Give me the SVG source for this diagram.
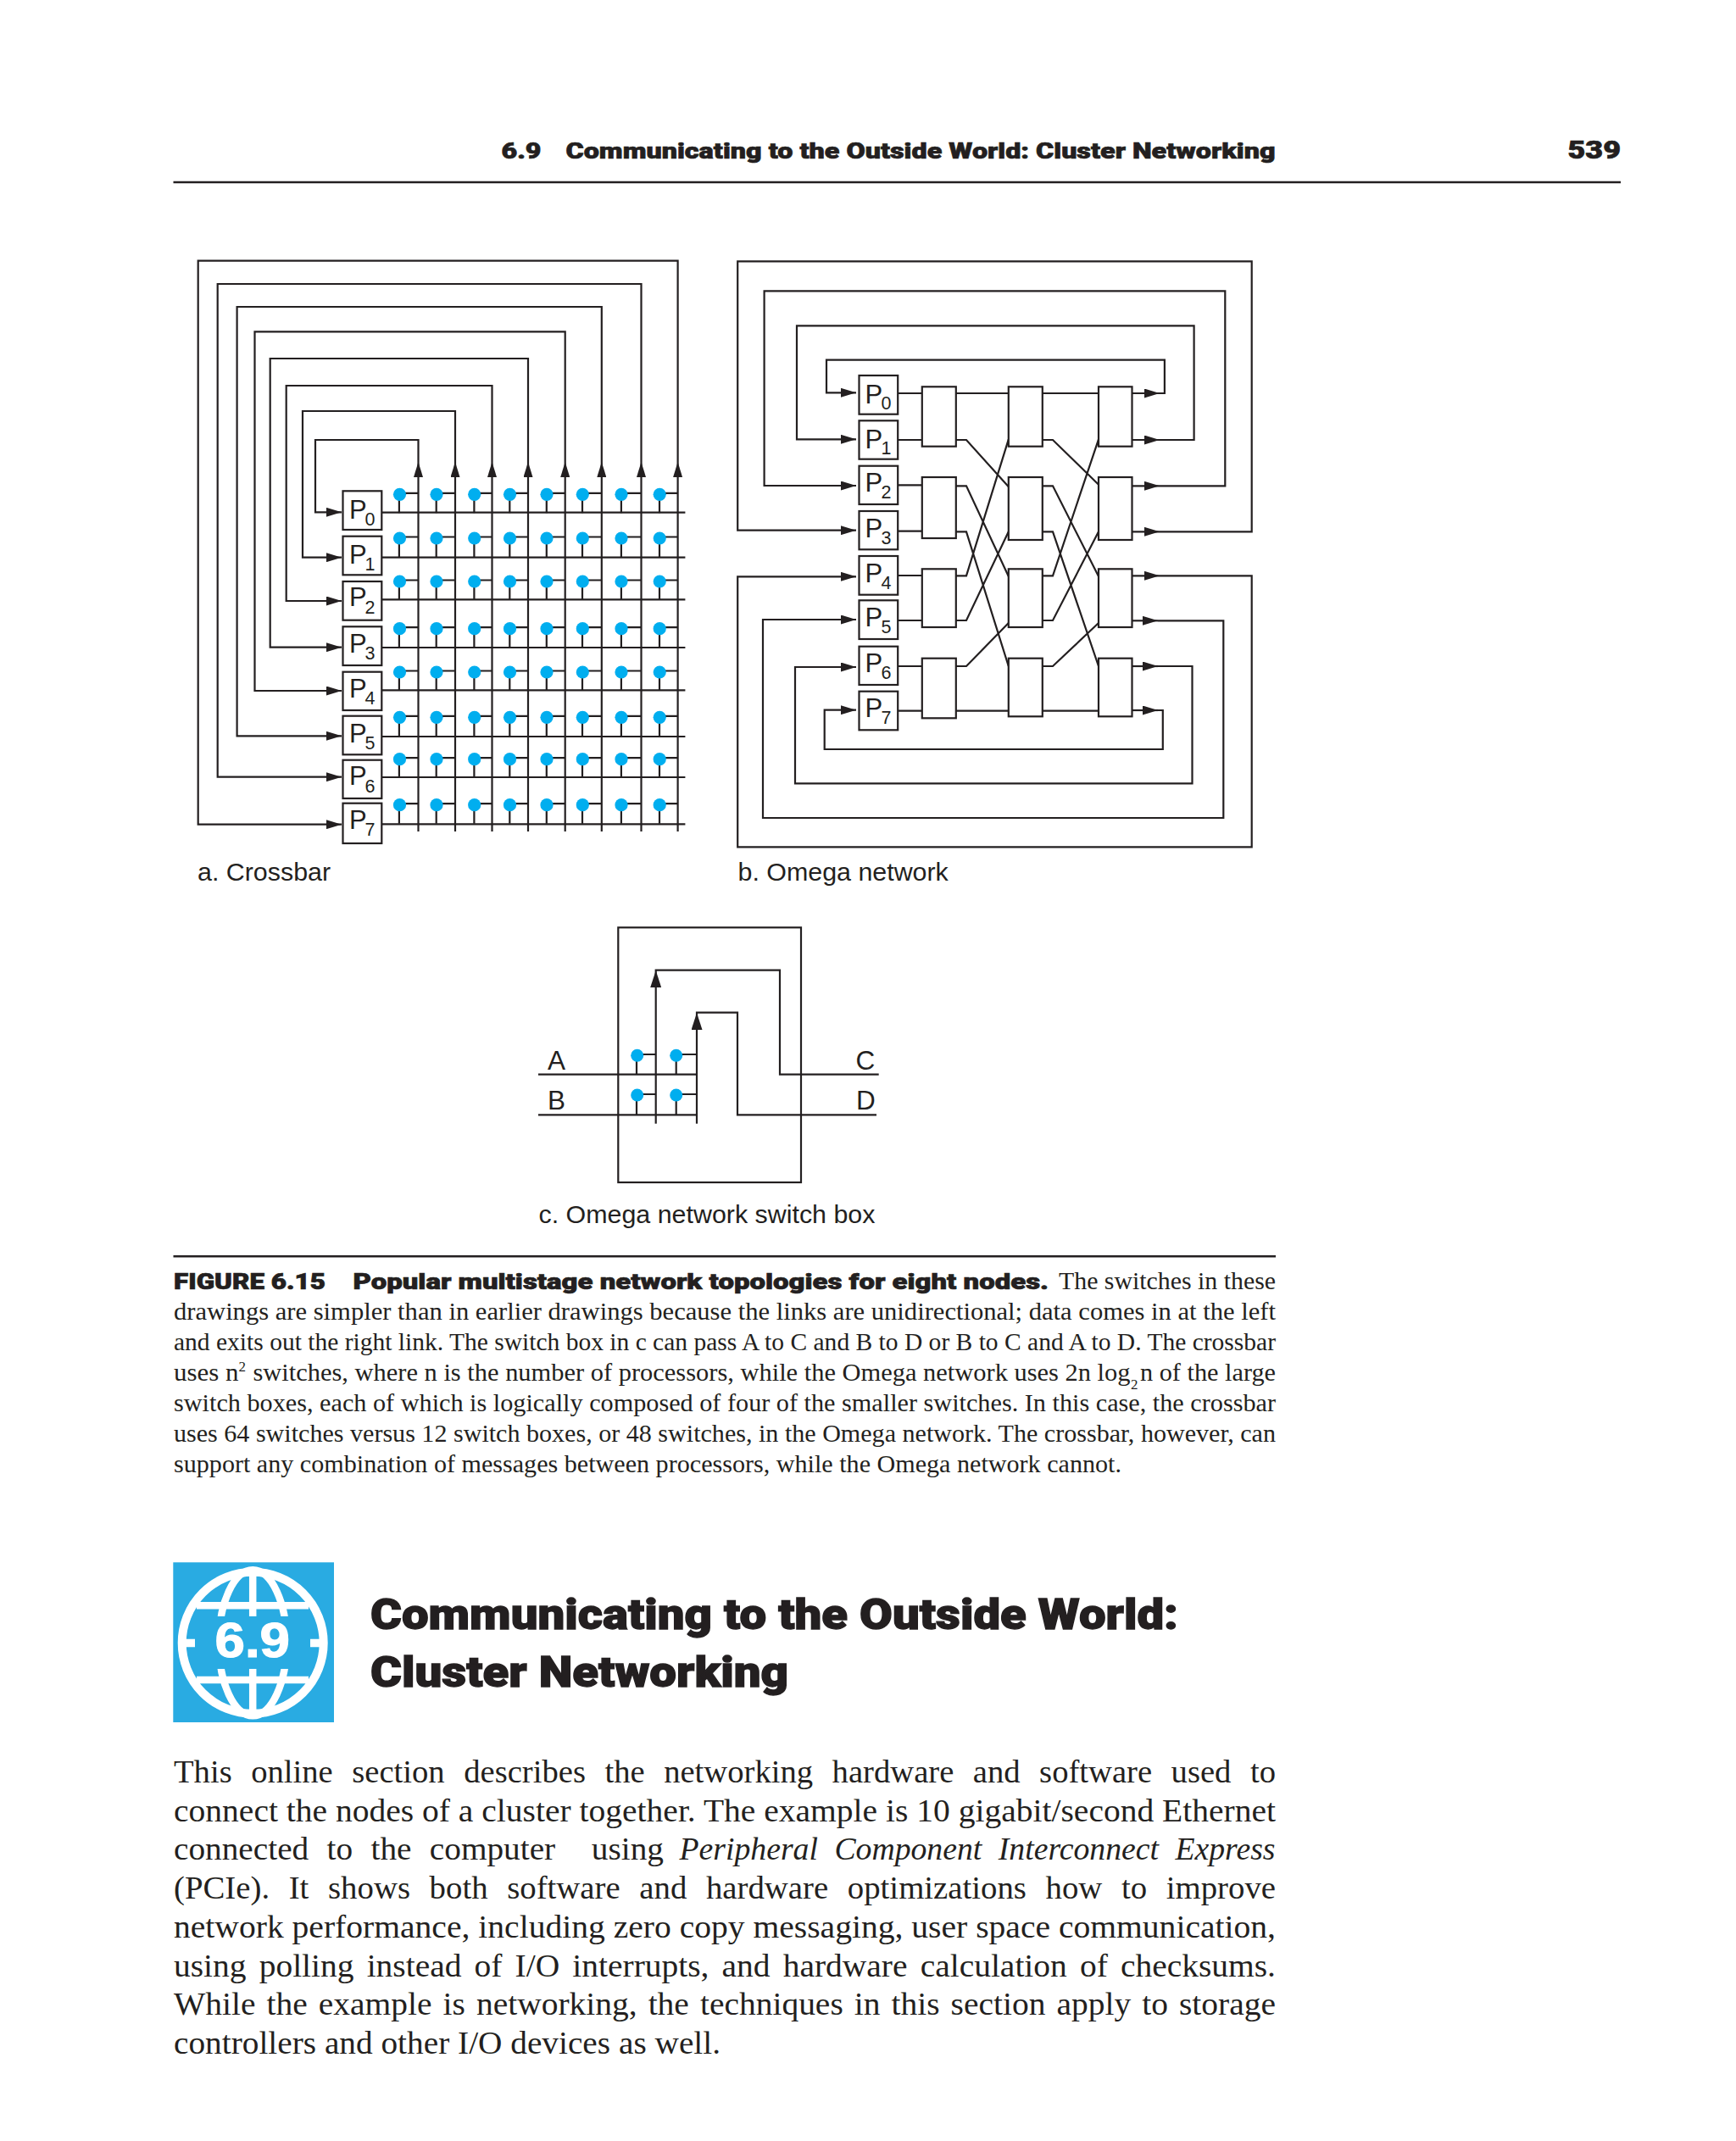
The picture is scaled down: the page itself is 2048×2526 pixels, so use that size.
<svg xmlns="http://www.w3.org/2000/svg" xmlns:xlink="http://www.w3.org/1999/xlink" width="2048" height="2526" viewBox="0 0 2048 2526">
<style>
text{fill:#231f20}
.w{fill:none;stroke:#231f20;stroke-width:2.2;stroke-linejoin:miter}
.a{marker-end:url(#arr)}
.a2{marker-end:url(#arr2)}
.box{fill:#fff;stroke:#231f20;stroke-width:2.2}
.dot{fill:#00aeef}
.rule{stroke:#231f20;stroke-width:2.4;fill:none}
.s{font-family:"Liberation Sans",Arial,sans-serif}
.p{font-size:31px}.b{font-size:21.5px}.lab{font-size:30.4px}.pin{font-size:31.5px}
.h{font-family:Roboto,"Liberation Sans",sans-serif;font-weight:900;stroke:#231f20;stroke-width:.7px}
.hl{stroke-width:1.3px}
.c{font-family:"Liberation Serif","Times New Roman",serif;font-size:29px}
.t{font-family:"Liberation Serif","Times New Roman",serif;font-size:37.5px}
</style>
<defs>
<marker id="arr" markerUnits="userSpaceOnUse" viewBox="0 0 18 11" markerWidth="18" markerHeight="11" refX="18" refY="5.5" orient="auto"><path d="M0 0L18 5.5L0 11Z" fill="#231f20"/></marker>
<marker id="arr2" markerUnits="userSpaceOnUse" viewBox="0 0 20 13" markerWidth="20" markerHeight="13" refX="20" refY="6.5" orient="auto"><path d="M0 0L20 6.5L0 13Z" fill="#231f20"/></marker>
<g id="xrow">
<path class="w" d="M470.9 0V22M514.7 0V22M559.4 0V22M601.3 0V22M644.8 0V22M687 0V22M732.9 0V22M778 0V22M470.9 -1.5H493.5M514.7 -1.5H537M559.4 -1.5H580.5M601.3 -1.5H623M644.8 -1.5H666.7M687 -1.5H709.8M732.9 -1.5H756.5M778 -1.5H799.6"/>
<circle class="dot" cx="471.5" cy="0" r="7.6"/><circle class="dot" cx="515" cy="0" r="7.6"/><circle class="dot" cx="559.7" cy="0" r="7.6"/><circle class="dot" cx="601.5" cy="0" r="7.6"/><circle class="dot" cx="645" cy="0" r="7.6"/><circle class="dot" cx="687.3" cy="0" r="7.6"/><circle class="dot" cx="733" cy="0" r="7.6"/><circle class="dot" cx="778.2" cy="0" r="7.6"/>
</g>
<clipPath id="polar"><rect x="204" y="1848" width="190" height="59"/><rect x="204" y="1969" width="190" height="60"/></clipPath>
</defs>
<rect width="2048" height="2526" fill="#fff"/>

<g id="page-header">
<text class="h" x="591.5" y="186.5" font-size="26" textLength="47" lengthAdjust="spacingAndGlyphs">6.9</text>
<text class="h" x="667.5" y="186.5" font-size="26" textLength="837" lengthAdjust="spacingAndGlyphs">Communicating to the Outside World: Cluster Networking</text>
<text class="h" x="1849.5" y="186.5" font-size="30" textLength="62.5" lengthAdjust="spacingAndGlyphs">539</text>
<path class="rule" d="M204.5 215H1912"/>
</g>

<g id="crossbar-connectors">
<path class="w" d="M450.3 604.7H808.4M450.3 657.7H808.4M450.3 707.3H808.4M450.3 764H808.4M450.3 814.3H808.4M450.3 869H808.4M450.3 917H808.4M450.3 972.3H808.4"/>
<path class="w a" d="M493.5 981V545"/><path class="w a" d="M537 981V545"/><path class="w a" d="M580.5 981V545"/><path class="w a" d="M623 981V545"/><path class="w a" d="M666.7 981V545"/><path class="w a" d="M709.8 981V545"/><path class="w a" d="M756.5 981V545"/><path class="w a" d="M799.6 981V545"/>
<path class="w a" d="M493.5 545V519H372V604.3H403"/>
<path class="w a" d="M537 545V485H357V657.7H403"/>
<path class="w a" d="M580.5 545V455H337.7V709H403"/>
<path class="w a" d="M623 545V423H318.7V763.7H403"/>
<path class="w a" d="M666.7 545V391.3H300.5V815H403"/>
<path class="w a" d="M709.8 545V362H279.6V868.3H403"/>
<path class="w a" d="M756.5 545V335H256.7V916.7H403"/>
<path class="w a" d="M799.6 545V307.7H233.7V972.7H403"/>
<use href="#xrow" xlink:href="#xrow" y="583.3"/><use href="#xrow" xlink:href="#xrow" y="635"/><use href="#xrow" xlink:href="#xrow" y="686"/><use href="#xrow" xlink:href="#xrow" y="741.7"/><use href="#xrow" xlink:href="#xrow" y="793"/><use href="#xrow" xlink:href="#xrow" y="846.3"/><use href="#xrow" xlink:href="#xrow" y="895.7"/><use href="#xrow" xlink:href="#xrow" y="949.7"/>
</g>
<g id="xb-P0"><rect class="box" x="404.5" y="579.3" width="45.8" height="45.7"/><text class="s p" x="412" y="611.5">P</text><text class="s b" x="430.5" y="619.5">0</text></g>
<g id="xb-P1"><rect class="box" x="404.5" y="632.7" width="45.8" height="45.6"/><text class="s p" x="412" y="665">P</text><text class="s b" x="430.5" y="673">1</text></g>
<g id="xb-P2"><rect class="box" x="404.5" y="686" width="45.8" height="45.7"/><text class="s p" x="412" y="715">P</text><text class="s b" x="430.5" y="724">2</text></g>
<g id="xb-P3"><rect class="box" x="404.5" y="739.3" width="45.8" height="45.7"/><text class="s p" x="412" y="770">P</text><text class="s b" x="430.5" y="778">3</text></g>
<g id="xb-P4"><rect class="box" x="404.5" y="792.7" width="45.8" height="45.3"/><text class="s p" x="412" y="823">P</text><text class="s b" x="430.5" y="831">4</text></g>
<g id="xb-P5"><rect class="box" x="404.5" y="844.7" width="45.8" height="45.6"/><text class="s p" x="412" y="875.5">P</text><text class="s b" x="430.5" y="883.5">5</text></g>
<g id="xb-P6"><rect class="box" x="404.5" y="896.7" width="45.8" height="45.3"/><text class="s p" x="412" y="926">P</text><text class="s b" x="430.5" y="935">6</text></g>
<g id="xb-P7"><rect class="box" x="404.5" y="947.7" width="45.8" height="47.3"/><text class="s p" x="412" y="978">P</text><text class="s b" x="430.5" y="985.5">7</text></g>
<text id="label-a" class="s lab" x="233" y="1039.3">a. Crossbar</text>

<g id="omega-connectors">
<path class="w" d="M1059.2 464H1296M1059.2 519H1088M1059.2 572.3H1088M1059.2 626.7H1088M1059.2 679H1088M1059.2 732H1088M1059.2 786H1088M1059.2 838.7H1296"/>
<path class="w" d="M1127.8 519H1140L1189.8 574.3M1127.8 573.3H1140L1189.8 680M1127.8 627.3H1140L1189.8 786M1127.8 679.3H1140L1189.8 518.3M1127.8 732H1140L1189.8 627.3M1127.8 786H1140L1189.8 735"/>
<path class="w" d="M1229.8 519H1242L1296 571.7M1229.8 573.3H1242L1296 680M1229.8 627.3H1242L1296 786M1229.8 679.3H1242L1296 518.3M1229.8 732H1242L1296 627.3M1229.8 786H1242L1296 735"/>
<path class="w a" d="M1335.5 464H1368"/><path class="w a" d="M1335.5 519H1368"/><path class="w a" d="M1335.5 573.3H1368"/><path class="w a" d="M1335.5 627.3H1368"/><path class="w a" d="M1335.5 679.3H1368"/><path class="w a" d="M1335.5 732.3H1366"/><path class="w a" d="M1335.5 786H1366"/><path class="w a" d="M1335.5 838H1366"/>
<path class="w a" d="M1368 464H1373.9V424.7H975V463.3H1010"/>
<path class="w a" d="M1368 519H1408.6V384.3H940V518.3H1010"/>
<path class="w a" d="M1368 573.3H1445.3V343.3H901.6V573H1010"/>
<path class="w a" d="M1368 627.3H1476.7V308.3H870.2V625.7H1010"/>
<path class="w a" d="M1368 679.3H1476.7V999.3H870.2V680.3H1010"/>
<path class="w a" d="M1366 732.3H1443.3V965H900V731H1010"/>
<path class="w a" d="M1366 786H1406.5V924.3H938V787H1010"/>
<path class="w a" d="M1366 838H1371.8V884H972.7V837.7H1010"/>
</g>
<g id="om-P0"><rect class="box" x="1013.5" y="443" width="45.7" height="45.7"/><text class="s p" x="1020.5" y="475.5">P</text><text class="s b" x="1039.5" y="483">0</text></g>
<g id="om-P1"><rect class="box" x="1013.5" y="496.3" width="45.7" height="45.4"/><text class="s p" x="1020.5" y="528.5">P</text><text class="s b" x="1039.5" y="536">1</text></g>
<g id="om-P2"><rect class="box" x="1013.5" y="549.7" width="45.7" height="45.3"/><text class="s p" x="1020.5" y="580">P</text><text class="s b" x="1039.5" y="587.5">2</text></g>
<g id="om-P3"><rect class="box" x="1013.5" y="603" width="45.7" height="45.3"/><text class="s p" x="1020.5" y="634">P</text><text class="s b" x="1039.5" y="641.5">3</text></g>
<g id="om-P4"><rect class="box" x="1013.5" y="656" width="45.7" height="45.7"/><text class="s p" x="1020.5" y="686.5">P</text><text class="s b" x="1039.5" y="694.5">4</text></g>
<g id="om-P5"><rect class="box" x="1013.5" y="708.3" width="45.7" height="45.7"/><text class="s p" x="1020.5" y="738.5">P</text><text class="s b" x="1039.5" y="746.5">5</text></g>
<g id="om-P6"><rect class="box" x="1013.5" y="762.7" width="45.7" height="45.3"/><text class="s p" x="1020.5" y="793">P</text><text class="s b" x="1039.5" y="800.5">6</text></g>
<g id="om-P7"><rect class="box" x="1013.5" y="815.7" width="45.7" height="45.6"/><text class="s p" x="1020.5" y="845.5">P</text><text class="s b" x="1039.5" y="853.5">7</text></g>
<g id="sw-1-1"><rect class="box" x="1087.8" y="456.3" width="40" height="70.4"/></g>
<g id="sw-1-2"><rect class="box" x="1087.8" y="563" width="40" height="72"/></g>
<g id="sw-1-3"><rect class="box" x="1087.8" y="671.3" width="40" height="68.7"/></g>
<g id="sw-1-4"><rect class="box" x="1087.8" y="776.7" width="40" height="70.6"/></g>
<g id="sw-2-1"><rect class="box" x="1189.8" y="456.3" width="40" height="70.4"/></g>
<g id="sw-2-2"><rect class="box" x="1189.8" y="563" width="40" height="74"/></g>
<g id="sw-2-3"><rect class="box" x="1189.8" y="671.3" width="40" height="68.7"/></g>
<g id="sw-2-4"><rect class="box" x="1189.8" y="776.7" width="40" height="68.6"/></g>
<g id="sw-3-1"><rect class="box" x="1296" y="456.3" width="39.5" height="70.4"/></g>
<g id="sw-3-2"><rect class="box" x="1296" y="563" width="39.5" height="74"/></g>
<g id="sw-3-3"><rect class="box" x="1296" y="671.3" width="39.5" height="68.7"/></g>
<g id="sw-3-4"><rect class="box" x="1296" y="776.7" width="39.5" height="68.6"/></g>
<text id="label-b" class="s lab" x="870.5" y="1039.3">b. Omega network</text>

<g id="switch-box"><rect x="729.3" y="1094.3" width="215.7" height="300.7" fill="none" stroke="#231f20" stroke-width="2.2"/></g>
<g id="switch-connectors">
<path class="w" d="M635 1267.7H822M635 1315.3H822"/>
<path class="w a2" d="M773.7 1325.7V1145"/><path class="w a2" d="M822 1325.7V1195"/>
<path class="w" d="M773.7 1145V1144.7H920V1267.7H1036.7"/>
<path class="w" d="M822 1195V1194.7H870V1315.3H1034"/>
<path class="w" d="M751 1245V1267.7M797.7 1245V1267.7M751 1292V1315.3M797.7 1292V1315.3M751 1244H773.7M797.7 1244H822M751 1291H773.7M797.7 1291H822"/>
<circle class="dot" cx="751.7" cy="1245.3" r="7.5"/><circle class="dot" cx="797.7" cy="1245.3" r="7.5"/><circle class="dot" cx="751.7" cy="1292" r="7.5"/><circle class="dot" cx="797.7" cy="1292" r="7.5"/>
</g>
<text class="s pin" x="646" y="1261.5">A</text><text class="s pin" x="646" y="1308.5">B</text><text class="s pin" x="1009.5" y="1261.5">C</text><text class="s pin" x="1010" y="1308.5">D</text>
<text id="label-c" class="s lab" x="635.5" y="1442.7">c. Omega network switch box</text>

<g id="caption">
<path class="rule" d="M204.5 1482.3H1505"/>
<text class="h" x="205" y="1520.7" font-size="26" textLength="179" lengthAdjust="spacingAndGlyphs">FIGURE 6.15</text>
<text class="h" x="416.5" y="1520.7" font-size="26" textLength="820.5" lengthAdjust="spacingAndGlyphs">Popular multistage network topologies for eight nodes.</text>
<text class="c" x="1249" y="1520.7" textLength="256" lengthAdjust="spacingAndGlyphs">The switches in these</text>
<text class="c" x="205" y="1557.3" textLength="1300" lengthAdjust="spacingAndGlyphs">drawings are simpler than in earlier drawings because the links are unidirectional; data comes in at the left</text>
<text class="c" x="205" y="1593.3" textLength="1300" lengthAdjust="spacingAndGlyphs">and exits out the right link. The switch box in c can pass A to C and B to D or B to C and A to D. The crossbar</text>
<text class="c" x="205" y="1629.3" textLength="76.5" lengthAdjust="spacingAndGlyphs">uses n</text>
<text class="c" x="281.5" y="1618" style="font-size:17px">2</text>
<text class="c" x="298.5" y="1629.3" textLength="1035" lengthAdjust="spacingAndGlyphs">switches, where n is the number of processors, while the Omega network uses 2n log</text>
<text class="c" x="1334" y="1639" style="font-size:17px">2</text>
<text class="c" x="1345" y="1629.3" textLength="160" lengthAdjust="spacingAndGlyphs">n of the large</text>
<text class="c" x="205" y="1665" textLength="1300" lengthAdjust="spacingAndGlyphs">switch boxes, each of which is logically composed of four of the smaller switches. In this case, the crossbar</text>
<text class="c" x="205" y="1701" textLength="1300" lengthAdjust="spacingAndGlyphs">uses 64 switches versus 12 switch boxes, or 48 switches, in the Omega network. The crossbar, however, can</text>
<text class="c" x="205" y="1737.3" textLength="1118" lengthAdjust="spacingAndGlyphs">support any combination of messages between processors, while the Omega network cannot.</text>
</g>

<g id="section-icon">
<rect x="204.3" y="1843.3" width="189.7" height="188.7" fill="#29abe2"/>
<g fill="none" stroke="#fff" stroke-width="8.5">
<circle cx="298.2" cy="1938.3" r="83.5" stroke-width="10"/>
<path d="M232 1894.3H364M232 1982H364"/>
<g clip-path="url(#polar)"><ellipse cx="298.2" cy="1938.3" rx="40" ry="86"/><path d="M298.2 1850V2027"/></g>
<path d="M212 1938.5H230M366 1938.5H385" stroke-width="9.5"/>
</g>
<text x="253.5" y="1955" font-family="'Liberation Sans',Arial,sans-serif" font-weight="700" font-size="58" style="fill:#fff;stroke:#fff;stroke-width:1.2px" textLength="88.5" lengthAdjust="spacingAndGlyphs">6.9</text>
</g>
<g id="section-title">
<text class="h hl" x="437" y="1922.3" font-size="50" textLength="953" lengthAdjust="spacingAndGlyphs">Communicating to the Outside World:</text>
<text class="h hl" x="437" y="1990" font-size="50" textLength="493" lengthAdjust="spacingAndGlyphs">Cluster Networking</text>
</g>
<g id="body">
<text class="t" x="205" y="2103.3" textLength="1300" lengthAdjust="spacingAndGlyphs" word-spacing="12.5">This online section describes the networking hardware and software used to</text>
<text class="t" x="205" y="2149.3" textLength="1300" lengthAdjust="spacingAndGlyphs">connect the nodes of a cluster together. The example is 10 gigabit/second Ethernet</text>
<text class="t" x="205" y="2194.3" textLength="578" lengthAdjust="spacingAndGlyphs" word-spacing="11" xml:space="preserve">connected to the computer  using</text>
<text class="t" x="801.5" y="2194.3" font-style="italic" textLength="703" lengthAdjust="spacingAndGlyphs" word-spacing="10">Peripheral Component Interconnect Express</text>
<text class="t" x="205" y="2240.3" textLength="1300" lengthAdjust="spacingAndGlyphs" word-spacing="12.5">(PCIe). It shows both software and hardware optimizations how to improve</text>
<text class="t" x="205" y="2286" textLength="1300" lengthAdjust="spacingAndGlyphs">network performance, including zero copy messaging, user space communication,</text>
<text class="t" x="205" y="2331.7" textLength="1300" lengthAdjust="spacingAndGlyphs" word-spacing="5">using polling instead of I/O interrupts, and hardware calculation of checksums.</text>
<text class="t" x="205" y="2377" textLength="1300" lengthAdjust="spacingAndGlyphs" word-spacing="3">While the example is networking, the techniques in this section apply to storage</text>
<text class="t" x="205" y="2422.7" textLength="645" lengthAdjust="spacingAndGlyphs">controllers and other I/O devices as well.</text>
</g>
</svg>
